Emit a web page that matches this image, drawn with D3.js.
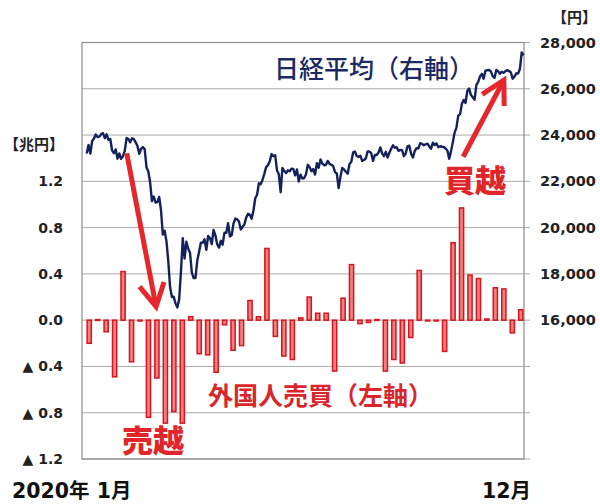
<!DOCTYPE html>
<html><head><meta charset="utf-8">
<script src="https://cdn.jsdelivr.net/npm/d3@7"></script>
<style>
html,body{margin:0;padding:0;background:#fff;}
svg{display:block;}
text{font-family:"DejaVu Sans","Noto Sans CJK JP",sans-serif;}
.cjk{font-family:"Noto Sans CJK JP","DejaVu Sans",sans-serif;}
</style></head>
<body>
<svg id="chart" width="600" height="504"></svg>
<script>
// Weekly net purchases by foreign investors (trillion yen), 52 weeks of 2020
const weeklyFlows = [-0.20, 0.005, -0.10, -0.49, 0.42, -0.36, 0, -0.84, -0.50, -0.89,
  -0.79, -0.89, 0.03, -0.29, -0.30, -0.45, -0.04, -0.26, -0.22, 0.17,
  0.03, 0.62, -0.14, -0.31, -0.34, 0.02, 0.20, 0.06, 0.06, -0.44,
  0.19, 0.48, -0.03, -0.02, 0.005, -0.44, -0.34, -0.37, -0.15, 0.43,
  0, -0.005, -0.27, 0.67, 0.97, 0.39, 0.36, 0.01, 0.28, 0.27, -0.11, 0.09];

// Nikkei 225 daily closes (yen), by month
const nikkeiJan = [23204,23575,23204,23739,23850,24025,23916,23933,24041,24083,23864,24031,23795,23827,23343,23215,23379,22977,23205];
const nikkeiFeb = [22971,23084,23319,23873,23827,23685,23861,23827,23687,23523,23193,23400,23479,23386,22605,22426,21948,21142];
const nikkeiMar = [21344,21082,21100,21329,20749,19698,19867,19416,18559,17431,17002,17011,16726,16552,16887,18092,19546,18664,19389,19084,18917];
const nikkeiApr = [18065,17818,17820,18576,18950,19353,19345,19498,19043,19638,19550,19290,19897,19669,19280,19137,19429,19262,19783,19771,20193];
const nikkeiMay = [19619,19674,20179,20390,20366,20267,19914,20037,20133,20433,20595,20552,20388,20741,21271,21419,21916,21877];
const nikkeiJun = [22062,22325,22613,22695,22863,23178,23091,23124,22473,22305,21530,22582,22455,22355,22478,22437,22549,22534,22259,22512,21995,22288];
const nikkeiJul = [22121,22145,22306,22714,22614,22438,22529,22290,22784,22587,22945,22770,22696,22717,22884,22751,22715,22657,22397,22339,21710];
const nikkeiAug = [22195,22573,22514,22418,22329,22750,22843,23249,23289,23096,23051,23110,22880,22920,22985,23296,23290,23208,22882,23139];
const nikkeiSep = [23138,23247,23465,23205,23089,23274,23032,23235,23406,23559,23454,23475,23319,23360,23346,23087,23204,23511,23539,23185];
const nikkeiOct = [23029,23312,23433,23422,23647,23619,23558,23601,23626,23507,23410,23671,23567,23639,23474,23516,23494,23485,23418,23331,22977];
const nikkeiNov = [23295,23695,24105,24325,24839,24905,25349,25520,25385,25906,26014,25728,25634,25527,26165,26297,26537,26644,26434];
const nikkeiDec = [26787,26800,26809,26751,26547,26467,26817,26756,26652,26732,26687,26757,26806,26763,26714,26436,26524,26668,26656,26854,27568,27444];

const leftTicks = [-1.2, -0.8, -0.4, 0, 0.4, 0.8, 1.2];
const rightTicks = [16000, 18000, 20000, 22000, 24000, 26000, 28000];
const gridLevels = [-1.2, -0.8, -0.4, 0, 0.4, 0.8, 1.2, 1.6, 2.0, 2.4];
const leftUnit = "【兆円】";
const rightUnit = "【円】";
const startLabel = "2020年 1月";
const endLabel = "12月";
const lineLabel = "日経平均（右軸）";
const barLabel = "外国人売買（左軸）";
const sellLabel = "売越";
const buyLabel = "買越";
// annotation arrows in data units: [week index, yen]
const sellArrow = {from: [4.43, 23210], to: [7.9, 16580]};
const buyArrow = {from: [44.2, 23064], to: [49.0, 26378]};

const nikkei = [].concat(nikkeiJan, nikkeiFeb, nikkeiMar, nikkeiApr, nikkeiMay, nikkeiJun,
  nikkeiJul, nikkeiAug, nikkeiSep, nikkeiOct, nikkeiNov, nikkeiDec);

const svg = d3.select("#chart");
const P = {left: 82, right: 524, top: 42.5, bottom: 459};

const yL = d3.scaleLinear().domain([-1.2, 2.4]).range([P.bottom, P.top]);
const yR = d3.scaleLinear().domain([10000, 28000]).range([P.bottom, P.top]);
const xBand = d3.scaleBand().domain(d3.range(weeklyFlows.length)).range([85, 525]).paddingInner(0.34).paddingOuter(0.17);
const xIdx = d3.scaleLinear().domain([0, weeklyFlows.length - 1])
  .range([xBand(0) + xBand.bandwidth() / 2, xBand(weeklyFlows.length - 1) + xBand.bandwidth() / 2]);
const xDay = d3.scaleLinear().domain([0, nikkei.length - 1]).range([86.7, 523.5]);

// gridlines
svg.append("g").selectAll("line").data(gridLevels).join("line")
  .attr("x1", P.left).attr("x2", P.right + 6)
  .attr("y1", d => yL(d)).attr("y2", d => yL(d))
  .attr("stroke", "#a9a9a9").attr("stroke-width", 1);

// frame
svg.append("rect").attr("x", P.left).attr("y", P.top)
  .attr("width", P.right - P.left).attr("height", P.bottom - P.top)
  .attr("fill", "none").attr("stroke", "#8c8c8c").attr("stroke-width", 1.2);

// bars
svg.append("g").selectAll("rect").data(weeklyFlows).join("rect")
  .attr("x", (d, i) => xBand(i) + 0.7)
  .attr("width", xBand.bandwidth() - 1.4)
  .attr("y", d => Math.min(yL(d), yL(0)))
  .attr("height", d => Math.max(0.8, Math.abs(yL(d) - yL(0))))
  .attr("fill", "#f27f81").attr("stroke", "#d5161c").attr("stroke-width", 1.5);

// Nikkei line
svg.append("path").datum(nikkei)
  .attr("d", d3.line().x((d, i) => xDay(i)).y(d => yR(d)))
  .attr("fill", "none").attr("stroke", "#14225c").attr("stroke-width", 2.4)
  .attr("stroke-linejoin", "round");

// axes
const axL = svg.append("g").attr("transform", `translate(${P.left},0)`)
  .call(d3.axisLeft(yL).tickValues(leftTicks).tickSize(0).tickPadding(19)
    .tickFormat(d => d < 0 ? "▲ " + Math.abs(d).toFixed(1) : d.toFixed(1)));
axL.select(".domain").remove();
axL.selectAll("text").attr("font-size", 14).attr("font-weight", "bold").attr("fill", "#222")
  .attr("font-family", "DejaVu Sans");

const axR = svg.append("g").attr("transform", `translate(${P.right},0)`)
  .call(d3.axisRight(yR).tickValues(rightTicks).tickSize(0).tickPadding(16).tickFormat(d3.format(",")));
axR.select(".domain").remove();
axR.selectAll("text").attr("font-size", 14.5).attr("font-weight", "bold").attr("fill", "#222")
  .attr("font-family", "DejaVu Sans");

// units
svg.append("text").attr("class", "cjk").attr("x", 64).attr("y", yL(1.6) + 15)
  .attr("text-anchor", "end").attr("font-size", 15).attr("font-weight", "bold").attr("fill", "#222").text(leftUnit);
svg.append("text").attr("class", "cjk").attr("x", 597).attr("y", 23)
  .attr("text-anchor", "end").attr("font-size", 15).attr("font-weight", "bold").attr("fill", "#222").text(rightUnit);

// bottom labels
svg.append("text").attr("x", 12).attr("y", 498).attr("font-size", 20.5).attr("font-weight", "bold")
  .attr("fill", "#111").text(startLabel);
svg.append("text").attr("x", 531).attr("y", 498).attr("text-anchor", "end").attr("font-size", 20.5).attr("font-weight", "bold")
  .attr("fill", "#111").text(endLabel);

// arrows
function arrow(a) {
  const x1 = xIdx(a.from[0]), y1 = yR(a.from[1]);
  const x2 = xIdx(a.to[0]), y2 = yR(a.to[1]);
  const ang = Math.atan2(y1 - y2, x1 - x2);
  const L = 26, spread = 0.5;
  const g = svg.append("g").attr("stroke", "#e5262b").attr("stroke-width", 5).attr("fill", "none")
    .attr("stroke-linecap", "butt").attr("stroke-linejoin", "miter");
  g.append("line").attr("x1", x1).attr("y1", y1).attr("x2", x2 + Math.cos(ang) * 2).attr("y2", y2 + Math.sin(ang) * 2);
  g.append("path").attr("d", d3.line()([
    [x2 + L * Math.cos(ang - spread), y2 + L * Math.sin(ang - spread)],
    [x2, y2],
    [x2 + L * Math.cos(ang + spread), y2 + L * Math.sin(ang + spread)]]));
}
arrow(sellArrow);
arrow(buyArrow);

// annotation text
svg.append("text").attr("class", "cjk").attr("x", 274).attr("y", 78).attr("font-size", 25)
  .attr("font-weight", 500).attr("fill", "#1b2a63").text(lineLabel);
svg.append("text").attr("class", "cjk").attr("x", 208).attr("y", 405).attr("font-size", 25)
  .attr("font-weight", 700).attr("fill", "#d8262c").text(barLabel);
svg.append("text").attr("class", "cjk").attr("x", 122).attr("y", 452).attr("font-size", 31)
  .attr("font-weight", 900).attr("fill", "#e0262b").text(sellLabel);
svg.append("text").attr("class", "cjk").attr("x", 444).attr("y", 192).attr("font-size", 31)
  .attr("font-weight", 900).attr("fill", "#e0262b").text(buyLabel);
</script>
</body></html>
